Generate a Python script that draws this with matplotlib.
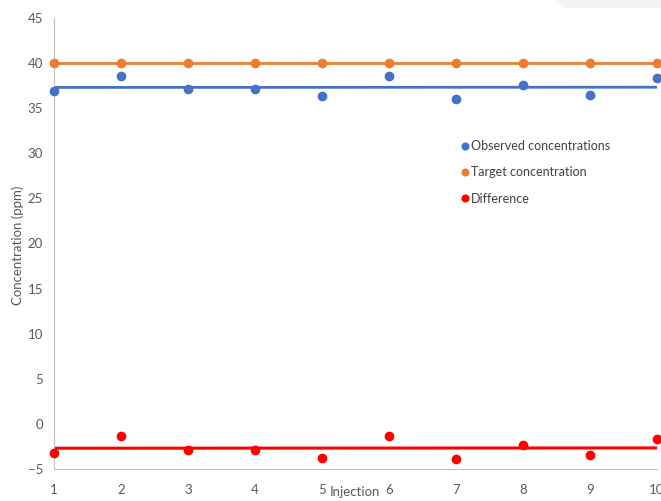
import matplotlib
matplotlib.use("Agg")
import matplotlib.pyplot as plt
from matplotlib.patches import Polygon
import numpy as np

injection = [1, 2, 3, 4, 5, 6, 7, 8, 9, 10]
observed = [36.9, 38.6, 37.1, 37.1, 36.3, 38.6, 36.05, 37.6, 36.5, 38.4]
target = [40, 40, 40, 40, 40, 40, 40, 40, 40, 40]
difference = [-3.2, -1.3, -2.9, -2.9, -3.8, -1.3, -3.9, -2.3, -3.5, -1.7]
yticks = [-5, 0, 5, 10, 15, 20, 25, 30, 35, 40, 45]

BLUE = "#4472C4"
ORANGE = "#ED7D31"
RED = "#FF0000"
GRAY = "#595959"

plt.rcParams["font.family"] = ["Lato", "DejaVu Sans"]

fig = plt.figure(figsize=(6.61, 5.01), dpi=100)
fig.patches.append(Polygon([[555/661, 1], [661/661, 1], [661/661, 1-8/501], [563/661, 1-8/501]],
                           closed=True, transform=fig.transFigure, facecolor="#f4f4f4",
                           edgecolor="none", zorder=0))
ax = fig.add_axes([54/661, 1-469/501, (657-54)/661, (469-18)/501])

x = np.array(injection, dtype=float)
ms = 6
ax.plot(x, target, color=ORANGE, lw=2, zorder=2, clip_on=False)
ax.plot(x, target, "o", color=ORANGE, ms=ms, zorder=3, clip_on=False, label="Target concentration")

b = np.polyfit(x, observed, 1)
ax.plot(x, np.polyval(b, x), color=BLUE, lw=2, zorder=2)
ax.plot(x, observed, "o", color=BLUE, ms=ms, zorder=3, clip_on=False, label="Observed concentrations")

r = np.polyfit(x, difference, 1)
ax.plot(x, np.polyval(r, x), color=RED, lw=2.2, zorder=2)
ax.plot(x, difference, "o", color=RED, ms=ms, zorder=3, clip_on=False, label="Difference")

ax.set_xlim(1, 10)
ax.set_ylim(-5, 45)
ax.set_yticks(yticks)
ax.set_xticks(injection)
ax.set_xticks([1, 10], minor=True)
ax.tick_params(axis="x", which="major", length=0, pad=11, labelsize=9.5, colors=GRAY)
ax.tick_params(axis="x", which="minor", length=5, color="#bfbfbf")
ax.tick_params(axis="y", length=0, pad=8, labelsize=9.5, colors=GRAY)
for s in ["top", "right"]:
    ax.spines[s].set_visible(False)
for s in ["left", "bottom"]:
    ax.spines[s].set_color("#bfbfbf")
    ax.spines[s].set_linewidth(0.8)

fig.text(355/661, 1-492/501, "Injection", ha="center", va="center", fontsize=9.5, color=GRAY)
fig.text(18/661, 1-245/501, "Concentration (ppm)", ha="center", va="center",
         rotation=90, fontsize=9.5, color=GRAY)

handles, labels = ax.get_legend_handles_labels()
order = [1, 0, 2]
leg = ax.legend([handles[i] for i in order], [labels[i] for i in order],
                loc="upper left", bbox_to_anchor=((462-54)/603, 1-(140-18)/451),
                frameon=False, fontsize=9, handlelength=0.4, handletextpad=0.35,
                labelspacing=1.15, markerscale=0.8, borderaxespad=0, borderpad=0)
for t in leg.get_texts():
    t.set_color("#404040")

fig.savefig("out.png", dpi=100)
